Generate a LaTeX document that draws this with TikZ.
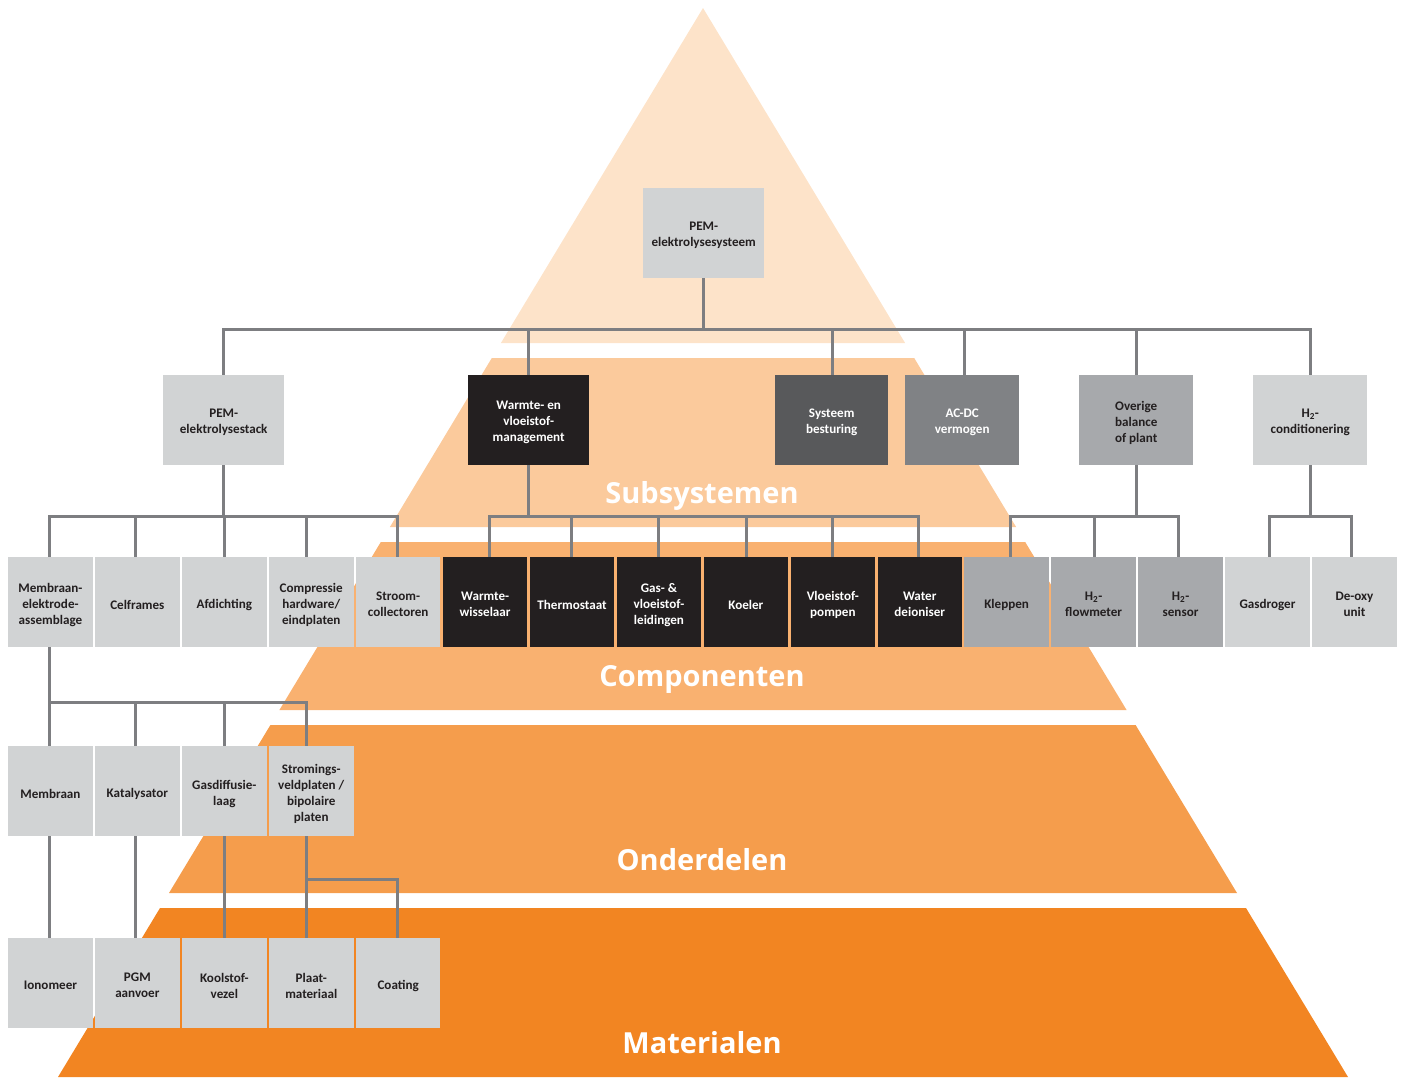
\documentclass[tikz,border=0pt]{standalone}
\usepackage{fontspec}
\newfontfamily\boxfont{Carlito}
\newfontfamily\bigfont{Open Sans}
\definecolor{lay1}{HTML}{FDE3C9}
\definecolor{lay2}{HTML}{FBCA9C}
\definecolor{lay3}{HTML}{F9B170}
\definecolor{lay4}{HTML}{F59D4C}
\definecolor{lay5}{HTML}{F28522}
\definecolor{gLight}{HTML}{D1D3D4}
\definecolor{gMid}{HTML}{A7A9AC}
\definecolor{gGrey}{HTML}{808285}
\definecolor{gDark}{HTML}{58595B}
\definecolor{gBlack}{HTML}{231F20}
\definecolor{lineC}{HTML}{7D7E81}
\pgfdeclarelayer{pyr}
\pgfdeclarelayer{lines}
\pgfsetlayers{pyr,lines,main}
\tikzset{
  box/.style={anchor=north west, minimum height=90pt, inner sep=0pt, align=center,
    font=\boxfont\bfseries\fontsize{13.1}{16}\selectfont, text=gBlack,
    execute at begin node={\vbox\bgroup\kern5pt\hbox\bgroup},
    execute at end node={\egroup\egroup}},
  lbox/.style={box, fill=gLight},
  mbox/.style={box, fill=gMid},
  gbox/.style={box, fill=gGrey, text=white},
  dbox/.style={box, fill=gDark, text=white},
  kbox/.style={box, fill=gBlack, text=white},
  cw/.style={minimum width=84.5pt},
  conn/.style={draw=lineC, line width=2.8pt},
  layerlabel/.style={anchor=base, text=white, font=\bigfont\bfseries\fontsize{29}{34}\selectfont}
}
\begin{document}
\begin{tikzpicture}[x=1pt,y=-1pt]
\useasboundingbox (0,0) rectangle (1402,1077);
% pyramid layers
\begin{pgfonlayer}{pyr}
\fill[lay1] (703,8) -- (905.1,343) -- (500.9,343) -- cycle;
\fill[lay2] (491.8,358) -- (914.2,358) -- (1016.1,527) -- (389.9,527) -- cycle;
\fill[lay3] (380.8,542) -- (1025.2,542) -- (1126.6,710) -- (279.4,710) -- cycle;
\fill[lay4] (270.4,725) -- (1135.6,725) -- (1237.0,893) -- (169.0,893) -- cycle;
\fill[lay5] (160.0,908) -- (1246.0,908) -- (1348,1077) -- (58,1077) -- cycle;
\end{pgfonlayer}
% layer labels
\node[layerlabel] (lsub) at (702,503) {Subsystemen};
\node[layerlabel] (lcom) at (702,686) {Componenten};
\node[layerlabel] (lond) at (702,870) {Onderdelen};
\node[layerlabel] (lmat) at (702,1053) {Materialen};
% boxes row 1
\node[lbox, minimum width=121pt] (sys) at (643,188) {PEM-\\elektrolysesysteem};
% row 2
\node[lbox, minimum width=121pt] (stack) at (163,375) {PEM-\\elektrolysestack};
\node[kbox, minimum width=121pt] (warm) at (468,375) {Warmte- en\\vloeistof-\\management};
\node[dbox, minimum width=113pt] (best) at (775,375) {Systeem\\besturing};
\node[gbox, minimum width=114pt] (acdc) at (905,375) {AC-DC\\vermogen};
\node[mbox, minimum width=114pt] (bop) at (1079,375) {Overige\\balance\\of plant};
\node[lbox, minimum width=114pt] (h2c) at (1253,375) {H\textsubscript{2}-\\conditionering};
% row 3
\node[lbox, cw] (mea) at (8,557) {Membraan-\\elektrode-\\assemblage};
\node[lbox, cw] (celf) at (94.9,557) {Celframes};
\node[lbox, cw] (afd) at (181.9,557) {Afdichting};
\node[lbox, cw] (comp) at (268.8,557) {Compressie\\hardware/\\eindplaten};
\node[lbox, cw] (stroom) at (355.7,557) {Stroom-\\collectoren};
\node[kbox, cw] (wwis) at (442.7,557) {Warmte-\\wisselaar};
\node[kbox, cw] (thermo) at (529.6,557) {Thermostaat};
\node[kbox, cw] (gas) at (616.5,557) {Gas- \&\\vloeistof-\\leidingen};
\node[kbox, cw] (koel) at (703.4,557) {Koeler};
\node[kbox, cw] (vpomp) at (790.4,557) {Vloeistof-\\pompen};
\node[kbox, cw] (water) at (877.3,557) {Water\\deioniser};
\node[mbox, cw] (klep) at (964.2,557) {Kleppen};
\node[mbox, cw] (flow) at (1051.2,557) {H\textsubscript{2}-\\flowmeter};
\node[mbox, cw] (sens) at (1138.1,557) {H\textsubscript{2}-\\sensor};
\node[lbox, cw] (gasd) at (1225.0,557) {Gasdroger};
\node[lbox, cw] (deoxy) at (1312.0,557) {De-oxy\\unit};
% row 4
\node[lbox, cw] (memb) at (8,746) {Membraan};
\node[lbox, cw] (kat) at (94.9,746) {Katalysator};
\node[lbox, cw] (gdl) at (181.9,746) {Gasdiffusie-\\laag};
\node[lbox, cw] (strom) at (268.8,746) {Stromings-\\veldplaten /\\bipolaire\\platen};
% row 5
\node[lbox, cw] (iono) at (8,938) {Ionomeer};
\node[lbox, cw] (pgm) at (94.9,938) {PGM\\aanvoer};
\node[lbox, cw] (kool) at (181.9,938) {Koolstof-\\vezel};
\node[lbox, cw] (plaat) at (268.8,938) {Plaat-\\materiaal};
\node[lbox, cw] (coat) at (355.7,938) {Coating};
% connectors
\begin{pgfonlayer}{lines}
% system -> subsystems
\foreach \c/\dx in {stack/-0.5, warm/0, best/0.5, acdc/2, bop/0, h2c/0}
  \draw[conn] (sys.south) -- ++(0,51) -| ([xshift=\dx pt]\c.north);
% stack -> components
\foreach \c/\dx in {mea/-1.2, celf/-2, afd/0, comp/-5, stroom/-1}
  \draw[conn] (stack.south) -- ++(0,51) -| ([xshift=\dx pt]\c.north);
% warm -> components
\foreach \c/\dx in {wwis/4, thermo/-0.8, gas/-0.7, koel/0.4, vpomp/-0.6, water/-1.5}
  \draw[conn] (warm.south) -- ++(0,51) -| ([xshift=\dx pt]\c.north);
% bop -> components
\foreach \c/\dx in {klep/3.6, flow/0.6, sens/-2.3}
  \draw[conn] (bop.south) -- ++(0,51) -| ([xshift=\dx pt]\c.north);
% h2c -> components
\foreach \c/\dx in {gasd/1.8, deoxy/-3.2}
  \draw[conn] (h2c.south) -- ++(0,51) -| ([xshift=\dx pt]\c.north);
% MEA -> parts
\foreach \c/\dx in {memb/-1.2, kat/-2, gdl/0, strom/-5}
  \draw[conn] ([xshift=-1.2pt]mea.south) -- ++(0,55) -| ([xshift=\dx pt]\c.north);
% parts -> materials
\draw[conn] ([xshift=-1.2pt]memb.south) -- ([xshift=-1.2pt]iono.north);
\draw[conn] ([xshift=-2pt]kat.south) -- ([xshift=-2pt]pgm.north);
\draw[conn] (gdl.south) -- (kool.north);
\draw[conn] ([xshift=-5pt]strom.south) -- ([xshift=-5pt]plaat.north);
\draw[conn] ([xshift=-5pt]strom.south) -- ++(0,43) -| ([xshift=-1pt]coat.north);
\end{pgfonlayer}
\end{tikzpicture}
\end{document}
